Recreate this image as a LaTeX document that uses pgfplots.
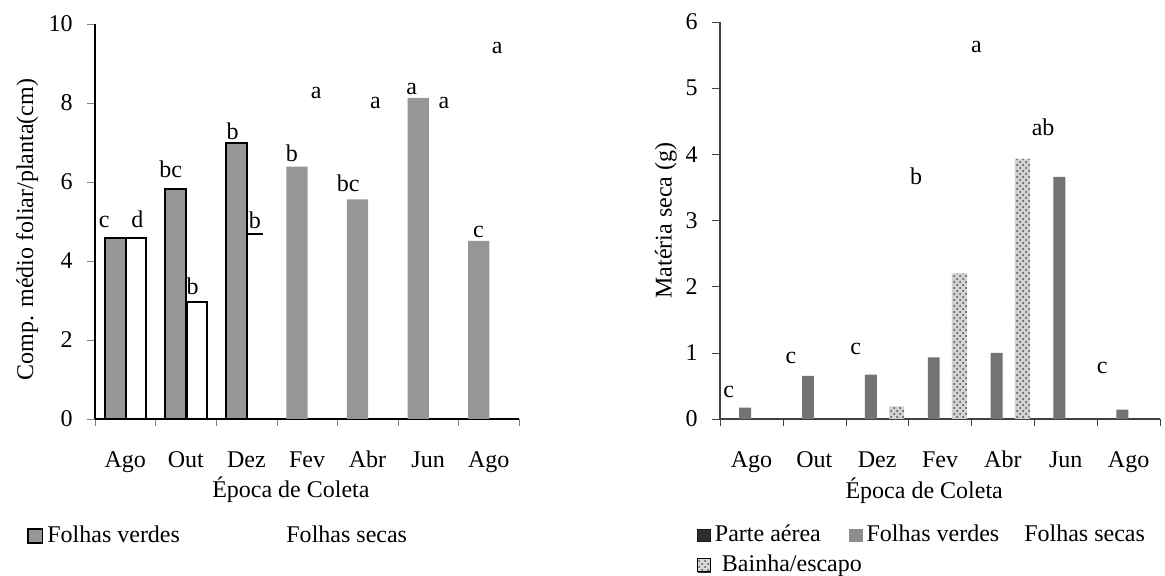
\documentclass[border=0pt]{standalone}
\usepackage{fontspec}
\setmainfont{Liberation Serif}
\usepackage{pgfplots}
\pgfplotsset{compat=1.18}
\usetikzlibrary{patterns}
\definecolor{gL}{RGB}{150,150,150}
\definecolor{gR}{RGB}{115,115,115}
\definecolor{gD}{RGB}{45,45,45}
\pgfplotsset{
 common/.style={
  scale only axis, anchor=south west, clip=false,
  xmin=-0.5, xmax=6.5, ymin=0,
  axis x line=bottom, axis y line=left,
  tick align=outside,
  xtick={0,...,6}, xticklabels={Ago,Out,Dez,Fev,Abr,Jun,Ago},
  minor xtick={-0.5,0.5,...,6.5},
  major x tick style={draw=none},
  minor tick length=3.5pt, major tick length=4pt,
  /pgf/number format/assume math mode=true,
  xticklabel style={anchor=base, yshift=-20.5pt},
  yticklabel style={anchor=east, xshift=-3pt},
  xlabel={Época de Coleta},
  xlabel style={anchor=center},
  ylabel style={anchor=center},
  legend style={draw=none, fill=none, inner sep=0pt, outer sep=0pt, anchor=west},
  legend cell align=left,
 },
 lab/.style={mark=none, draw=none,
  nodes near coords, point meta=explicit symbolic,
  every node near coord/.append style={inner sep=0pt, anchor=south, text=black},
  forget plot},
}
\begin{document}
\fontsize{12}{14}\selectfont
\begin{tikzpicture}
\useasboundingbox (0,0) rectangle (582.5pt,288pt);
% ---------------- left panel
\begin{axis}[common,
  at={(47.5pt,78.5pt)}, width=212pt, height=197.5pt,
  ymax=10, ytick={0,2,...,10},
  axis line style={-, line width=0.6pt},
  ylabel={Comp. médio foliar/planta(cm)},
  xlabel style={at={(rel axis cs:0.462,-0.180)}},
  ylabel style={at={(rel axis cs:-0.160,0.48)}},
  legend columns=2,
  legend style={at={(rel axis cs:-0.160,-0.296)},
    /tikz/every even column/.append style={column sep=42pt}},
]
\addlegendimage{legend image code/.code={\draw[fill=gL, draw=black, line width=0.9pt] (0pt,-3.6pt) rectangle (7.2pt,3.6pt);}}
\addlegendentry{Folhas verdes}
\addlegendimage{draw=none, legend image code/.code={\path[draw=none, fill=none] (0pt,-3.6pt) rectangle (7.2pt,3.6pt);}}
\addlegendentry{Folhas secas}
% Folhas verdes (bordered)
\addplot[ybar, bar width=0.35, bar shift=-0.165, fill=gL, draw=black, line width=1pt, forget plot]
 coordinates {(0,4.59) (1,5.82) (2,6.99)};
% Folhas verdes (no border)
\addplot[ybar, bar width=0.35, bar shift=-0.165, fill=gL, draw=none, forget plot]
 coordinates {(3,6.39) (4,5.56) (5,8.13) (6,4.51)};
% Folhas secas
\addplot[ybar, bar width=0.33, bar shift=0.18, fill=white, draw=black, line width=1pt, forget plot]
 coordinates {(0,4.59) (1,2.97)};
\addplot[black, line width=1pt, forget plot] coordinates {(2.01,4.68) (2.27,4.68)};
% letters
\addplot[lab] table[meta=lab] {
x y lab
-0.35 4.83 c
0.20 4.83 d
0.75 6.11 bc
1.11 3.14 b
1.77 7.06 b
2.14 4.80 b
2.75 6.51 b
3.15 8.09 a
3.68 5.75 bc
4.13 7.84 a
4.73 8.20 a
5.26 7.84 a
5.83 4.57 c
6.14 9.23 a
};
\end{axis}
% ---------------- right panel
\begin{axis}[common,
  at={(360pt,78.5pt)}, width=220pt, height=198.5pt,
  ymax=6, ytick={0,1,...,6},
  axis line style={-, line width=0.6pt, draw=black!75},
  tick style={black!75},
  ylabel={Matéria seca (g)},
  xlabel style={at={(rel axis cs:0.464,-0.181)}},
  ylabel style={at={(rel axis cs:-0.123,0.5)}},
  legend columns=3,
  legend style={at={(rel axis cs:-0.052,-0.330)},
    /tikz/column 2/.style={column sep=12pt},
    /tikz/column 4/.style={column sep=2pt},
    /tikz/row sep=0.5pt},
]
\addlegendimage{legend image code/.code={\draw[fill=gD, draw=black!90] (0pt,-3.2pt) rectangle (6.5pt,3.2pt);}}
\addlegendentry{Parte aérea}
\addlegendimage{legend image code/.code={\fill[black!45] (0pt,-3.2pt) rectangle (6.5pt,3.2pt);}}
\addlegendentry{Folhas verdes}
\addlegendimage{draw=none, legend image code/.code={\path[draw=none, fill=none] (0pt,-3.2pt) rectangle (6.5pt,3.2pt);}}
\addlegendentry{Folhas secas}
\addlegendimage{legend image code/.code={\fill[gray!30] (0pt,-3.2pt) rectangle (6.5pt,3.2pt); \fill[pattern=crosshatch dots, pattern color=black!70] (0pt,-3.2pt) rectangle (6.5pt,3.2pt); \draw[black!80] (0pt,-4pt) -- (6.5pt,-4pt);}}
\addlegendentry{\hspace{3.5pt}\makebox[0pt][l]{Bainha/escapo}}
% Folhas verdes
\addplot[ybar, bar width=0.19, bar shift=-0.1, fill=gR, draw=none, forget plot]
 coordinates {(0,0.17) (1,0.65) (2,0.67) (3,0.93) (4,1.00) (5,3.66) (6,0.14)};
% Bainha/escapo
\addplot[ybar, bar width=0.24, bar shift=0.31, fill=gray!35, draw=none,
  postaction={pattern=crosshatch dots, pattern color=black!70}, forget plot]
 coordinates {(2,0.19) (3,2.20) (4,3.93)};
% letters
\addplot[lab] table[meta=lab] {
x y lab
-0.36 0.31 c
0.63 0.83 c
1.66 0.97 c
2.62 3.54 b
3.58 5.53 a
4.64 4.28 ab
5.58 0.68 c
};
\end{axis}
\end{tikzpicture}
\end{document}
